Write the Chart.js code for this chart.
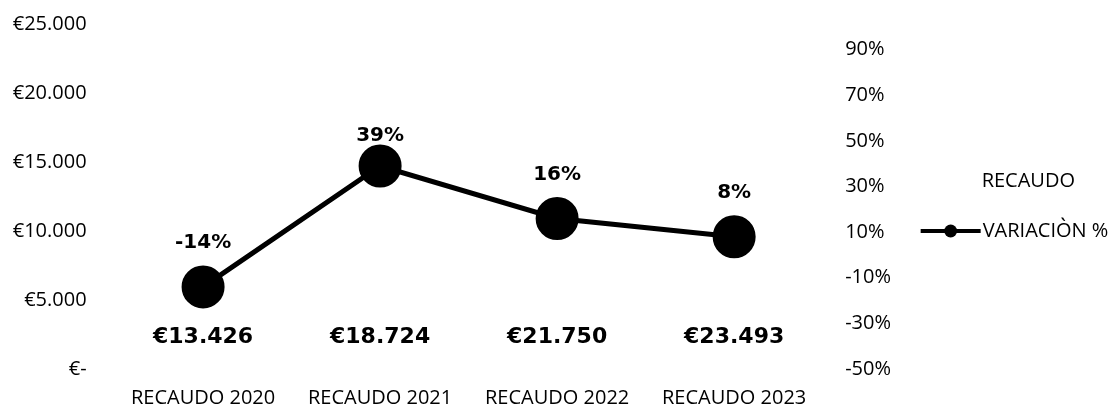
<!DOCTYPE html>
<html lang="es">
<head>
<meta charset="UTF-8">
<title>Recaudo y variación</title>
<script src="https://cdn.jsdelivr.net/npm/chart.js"></script>
<style>
  html, body { margin: 0; padding: 0; background: #fff; }
  #wrap { width: 1117px; height: 412px; }
</style>
</head>
<body>
<div id="wrap"><canvas id="recaudoChart"></canvas></div>
<script>
// datos
const years = ['RECAUDO 2020', 'RECAUDO 2021', 'RECAUDO 2022', 'RECAUDO 2023'];
const recaudo = [13426, 18724, 21750, 23493];
const variacion = [-14, 39, 16, 8];
const pctTicks = [-50, -30, -10, 10, 30, 50, 70, 90];

const TEXT = 'Open Sans';
const BOLD = 'DejaVu Sans';

function euro(v) {
  if (v === 0) return '€-';
  return '€' + String(Math.round(v)).replace(/\B(?=(\d{3})+(?!\d))/g, '.');
}

// value labels: euros at the base of each (hidden) bar, % above each point
const valueLabels = {
  id: 'valueLabels',
  afterDatasetsDraw(chart) {
    const ctx = chart.ctx;
    const area = chart.chartArea;
    ctx.save();
    ctx.fillStyle = '#000';
    ctx.textAlign = 'center';
    ctx.textBaseline = 'middle';

    ctx.font = 'bold 22px "' + BOLD + '"';
    chart.getDatasetMeta(0).data.forEach((bar, i) => {
      ctx.fillText(euro(recaudo[i]), bar.x, area.bottom - 32);
    });

    ctx.font = 'bold 20px "' + BOLD + '"';
    chart.getDatasetMeta(1).data.forEach((pt, i) => {
      const y = Math.max(pt.y - 44, area.top + 112);
      ctx.fillText(variacion[i] + '%', pt.x, y);
    });
    ctx.restore();
  }
};

// legend on the right: RECAUDO has no swatch, VARIACIÒN % gets a line with a dot
const sideLegend = {
  id: 'sideLegend',
  afterDraw(chart) {
    const ctx = chart.ctx;
    const x = chart.chartArea.right + 98;
    const mid = chart.height / 2;
    ctx.save();
    ctx.fillStyle = '#000';
    ctx.font = '20px "' + TEXT + '"';
    ctx.textAlign = 'left';
    ctx.textBaseline = 'middle';
    ctx.fillText(chart.data.datasets[0].label, x + 61, mid - 25);
    ctx.fillRect(x, mid + 23, 60, 4);
    ctx.beginPath();
    ctx.arc(x + 30, mid + 25, 6.5, 0, Math.PI * 2);
    ctx.fill();
    ctx.fillText(chart.data.datasets[1].label, x + 62, mid + 25);
    ctx.restore();
  }
};

new Chart(document.getElementById('recaudoChart'), {
  type: 'bar',
  data: {
    labels: years,
    datasets: [
      {
        label: 'RECAUDO',
        data: recaudo,
        yAxisID: 'y',
        backgroundColor: 'rgba(0,0,0,0)',
        borderWidth: 0
      },
      {
        type: 'line',
        label: 'VARIACIÒN %',
        data: variacion,
        yAxisID: 'y2',
        borderColor: '#000',
        borderWidth: 5,
        backgroundColor: '#000',
        pointBackgroundColor: '#000',
        pointBorderColor: '#000',
        pointRadius: 19,
        pointHoverRadius: 19,
        tension: 0
      }
    ]
  },
  options: {
    responsive: true,
    maintainAspectRatio: false,
    animation: false,
    layout: { padding: { left: 9.7, right: 223, top: 0, bottom: 0 } },
    plugins: {
      tooltip: { enabled: false },
      legend: { display: false }
    },
    scales: {
      x: {
        grid: { display: false, drawTicks: false },
        border: { display: false },
        afterFit(scale) {
          scale.height = 43;
        },
        ticks: {
          color: '#000',
          padding: 17.6,
          maxRotation: 0,
          font: { family: TEXT, size: 20, lineHeight: 1.2 }
        }
      },
      y: {
        position: 'left',
        min: 0,
        max: 25000,
        border: { display: false },
        grid: { drawOnChartArea: false, drawTicks: true, tickLength: 25, color: 'rgba(0,0,0,0)' },
        ticks: {
          stepSize: 5000,
          padding: 3,
          color: '#000',
          font: { family: TEXT, size: 20, lineHeight: 1.51 },
          callback: v => euro(v)
        }
      },
      y2: {
        position: 'right',
        min: -50,
        max: 101.3,
        border: { display: false },
        grid: { drawOnChartArea: false, drawTicks: true, tickLength: 19.5, color: 'rgba(0,0,0,0)' },
        afterBuildTicks(scale) {
          scale.ticks = pctTicks.map(v => ({ value: v }));
        },
        ticks: {
          padding: 3,
          color: '#000',
          font: { family: TEXT, size: 20 },
          callback: v => v + '%'
        }
      }
    }
  },
  plugins: [valueLabels, sideLegend]
});
</script>
</body>
</html>
